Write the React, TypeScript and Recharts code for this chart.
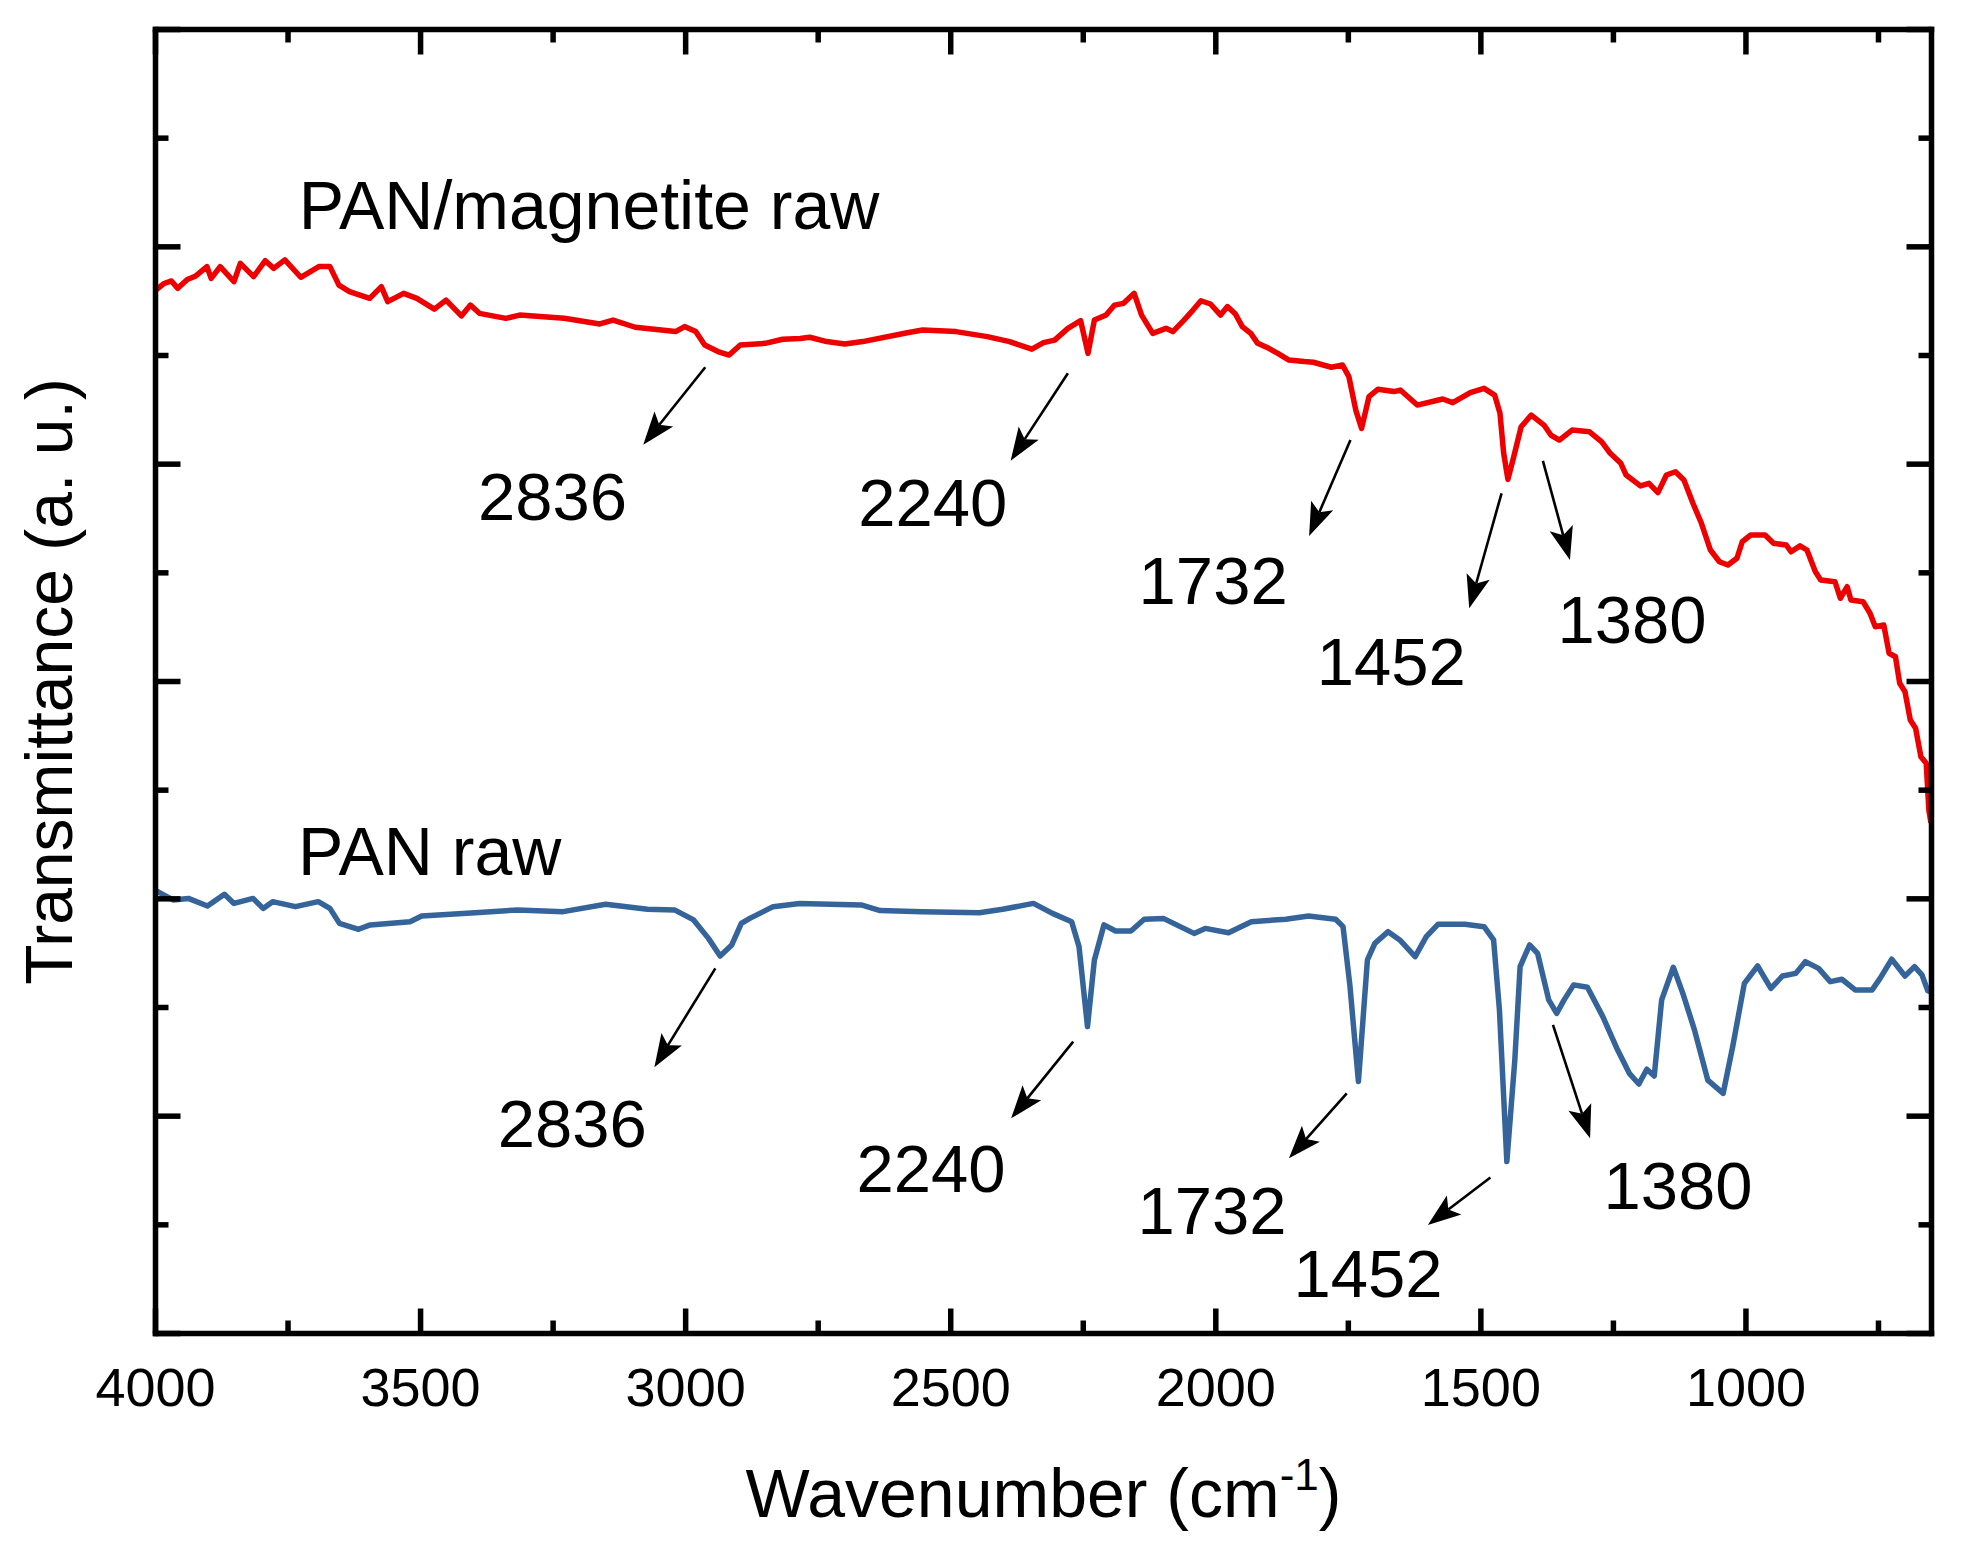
import React from 'react';
import { LineChart, Line, XAxis, YAxis, ReferenceLine, ReferenceDot, Label } from 'recharts';

const FONT = '"Liberation Sans", Arial, Helvetica, sans-serif';

// ---- axis ticks ----
const xTicks = [750, 1000, 1250, 1500, 1750, 2000, 2250, 2500, 2750, 3000, 3250, 3500, 3750, 4000];
const xMajorStep = 500;
const yTicks = [0, 0.5, 1, 1.5, 2, 2.5, 3, 3.5, 4, 4.5, 5, 5.5, 6];

// ---- spectra: [wavenumber, transmittance (a.u.)] ----
const redSpectrum: [number, number][] = [
  [4000, 4.80], [3985, 4.83], [3970, 4.843], [3958, 4.809], [3940, 4.85], [3924, 4.866], [3903, 4.909],
  [3895, 4.855], [3878, 4.909], [3852, 4.84], [3840, 4.924], [3815, 4.863], [3793, 4.936], [3777, 4.901],
  [3756, 4.94], [3726, 4.86], [3692, 4.909], [3671, 4.909], [3654, 4.824], [3634, 4.794], [3596, 4.763],
  [3574, 4.817], [3562, 4.748], [3532, 4.786], [3507, 4.763], [3474, 4.713], [3452, 4.755], [3423, 4.682],
  [3406, 4.732], [3389, 4.694], [3339, 4.671], [3313, 4.686], [3229, 4.671], [3162, 4.645], [3137, 4.663],
  [3095, 4.63], [3019, 4.61], [3002, 4.633], [2981, 4.61], [2964, 4.548], [2939, 4.518], [2918, 4.502],
  [2897, 4.548], [2850, 4.556], [2817, 4.575], [2784, 4.578], [2766, 4.584], [2734, 4.564], [2700, 4.553],
  [2666, 4.564], [2582, 4.605], [2553, 4.617], [2490, 4.61], [2431, 4.587], [2389, 4.564], [2347, 4.529],
  [2325, 4.559], [2304, 4.571], [2279, 4.625], [2255, 4.66], [2241, 4.51], [2229, 4.663], [2207, 4.686],
  [2191, 4.732], [2174, 4.74], [2154, 4.786], [2140, 4.686], [2119, 4.602], [2094, 4.625], [2081, 4.61],
  [2060, 4.663], [2043, 4.709], [2028, 4.752], [2010, 4.737], [1991, 4.686], [1978, 4.725], [1963, 4.691],
  [1950, 4.633], [1934, 4.602], [1921, 4.556], [1900, 4.533], [1883, 4.51], [1862, 4.479], [1833, 4.472],
  [1816, 4.469], [1782, 4.446], [1761, 4.456], [1749, 4.403], [1736, 4.249], [1725, 4.165], [1711, 4.311],
  [1694, 4.345], [1664, 4.334], [1652, 4.341], [1620, 4.272], [1572, 4.3], [1553, 4.283], [1520, 4.329],
  [1494, 4.349], [1474, 4.318], [1464, 4.234], [1457, 4.05], [1449, 3.93], [1438, 4.034], [1424, 4.172],
  [1405, 4.226], [1381, 4.18], [1368, 4.134], [1352, 4.111], [1328, 4.157], [1295, 4.149], [1272, 4.103],
  [1256, 4.05], [1236, 4.004], [1226, 3.95], [1199, 3.9], [1183, 3.912], [1166, 3.869], [1150, 3.95],
  [1133, 3.965], [1117, 3.927], [1100, 3.82], [1084, 3.728], [1067, 3.605], [1050, 3.551], [1034, 3.536],
  [1017, 3.567], [1007, 3.643], [991, 3.674], [964, 3.674], [948, 3.636], [924, 3.628], [915, 3.597],
  [898, 3.624], [885, 3.605], [869, 3.505], [859, 3.467], [832, 3.459], [822, 3.383], [809, 3.436],
  [802, 3.375], [779, 3.367], [766, 3.314], [756, 3.252], [740, 3.26], [730, 3.13], [718, 3.114],
  [710, 2.992], [700, 2.953], [690, 2.823], [680, 2.785], [670, 2.654], [660, 2.624], [655, 2.409], [651, 2.35],
];

const blueSpectrum: [number, number][] = [
  [4000, 2.04], [3996, 2.033], [3967, 1.995], [3938, 2.002], [3902, 1.967], [3870, 2.021], [3852, 1.979],
  [3816, 2.002], [3797, 1.956], [3779, 1.987], [3736, 1.964], [3693, 1.987], [3671, 1.956], [3653, 1.887],
  [3617, 1.86], [3595, 1.88], [3520, 1.895], [3498, 1.921], [3397, 1.936], [3317, 1.949], [3231, 1.941],
  [3151, 1.975], [3072, 1.952], [3021, 1.949], [2985, 1.903], [2957, 1.818], [2935, 1.737], [2913, 1.788],
  [2895, 1.887], [2879, 1.91], [2835, 1.964], [2785, 1.979], [2669, 1.972], [2633, 1.946], [2554, 1.941],
  [2446, 1.936], [2402, 1.952], [2344, 1.979], [2308, 1.933], [2272, 1.895], [2258, 1.78], [2242, 1.412],
  [2229, 1.719], [2211, 1.88], [2189, 1.852], [2160, 1.852], [2135, 1.906], [2099, 1.91], [2041, 1.841],
  [2020, 1.864], [1976, 1.844], [1933, 1.895], [1868, 1.906], [1825, 1.921], [1774, 1.906], [1760, 1.872],
  [1747, 1.6], [1731, 1.159], [1714, 1.719], [1700, 1.795], [1675, 1.849], [1653, 1.811], [1624, 1.734],
  [1603, 1.826], [1581, 1.883], [1530, 1.883], [1494, 1.872], [1476, 1.811], [1465, 1.489], [1451, 0.791],
  [1436, 1.258], [1426, 1.688], [1408, 1.788], [1393, 1.749], [1372, 1.535], [1357, 1.473], [1343, 1.535],
  [1325, 1.604], [1299, 1.593], [1270, 1.458], [1242, 1.304], [1220, 1.197], [1202, 1.148], [1187, 1.216],
  [1173, 1.185], [1159, 1.535], [1137, 1.685], [1119, 1.565], [1097, 1.396], [1072, 1.166], [1043, 1.105],
  [1025, 1.32], [1003, 1.611], [978, 1.691], [953, 1.588], [931, 1.645], [906, 1.657], [888, 1.711],
  [863, 1.68], [841, 1.619], [819, 1.63], [794, 1.581], [762, 1.581], [747, 1.634], [725, 1.722],
  [700, 1.645], [682, 1.688], [668, 1.65], [657, 1.577], [650, 1.57],
];

// ---- annotations (data coordinates) ----
const seriesLabels = [
  { text: 'PAN/magnetite raw', wn: 3730, v: 5.081 },
  { text: 'PAN raw', wn: 3731, v: 2.11 },
];
const peakLabels = [
  { text: '2836', wn: 3251, v: 3.743 },
  { text: '2240', wn: 2534, v: 3.715 },
  { text: '1732', wn: 2005, v: 3.358 },
  { text: '1452', wn: 1669, v: 2.984 },
  { text: '1380', wn: 1215, v: 3.176 },
  { text: '2836', wn: 3214, v: 0.86 },
  { text: '2240', wn: 2537, v: 0.653 },
  { text: '1732', wn: 2007, v: 0.459 },
  { text: '1452', wn: 1713, v: 0.169 },
  { text: '1380', wn: 1128, v: 0.573 },
];
const arrows = [
  { from: [2963, 4.446], to: [3080, 4.089] },
  { from: [2279, 4.418], to: [2387, 4.016] },
  { from: [1746, 4.111], to: [1824, 3.67] },
  { from: [1461, 3.866], to: [1522, 3.337] },
  { from: [1383, 4.015], to: [1332, 3.559] },
  { from: [2944, 1.68], to: [3059, 1.225] },
  { from: [2269, 1.343], to: [2386, 0.99] },
  { from: [1753, 1.105], to: [1862, 0.806] },
  { from: [1482, 0.718], to: [1600, 0.499] },
  { from: [1364, 1.42], to: [1294, 0.898] },
];

const redData = redSpectrum.map(([wn, v]) => ({ wn, v }));
const blueData = blueSpectrum.map(([wn, v]) => ({ wn, v }));

const AX = '#000';
const AXW = 5.5;
const MAJ = 25;
const MIN = 13;

const isMajorX = (v: number) => v % xMajorStep === 0;
const isMajorY = (v: number) => Math.abs(v - Math.round(v)) < 1e-9;

const BottomTick = (p: any) => {
  const { x, y, payload } = p;
  const major = isMajorX(payload.value);
  return (
    <g>
      <line x1={x} y1={y} x2={x} y2={y - (major ? MAJ : MIN)} stroke={AX} strokeWidth={AXW} />
      {major && (
        <text x={x} y={y + 72.5} textAnchor="middle" fontSize={54} fontFamily={FONT} fill="#000">
          {payload.value}
        </text>
      )}
    </g>
  );
};
const TopTick = (p: any) => {
  const { x, y, payload } = p;
  const major = isMajorX(payload.value);
  return <line x1={x} y1={y} x2={x} y2={y + (major ? MAJ : MIN)} stroke={AX} strokeWidth={AXW} />;
};
const LeftTick = (p: any) => {
  const { x, y, payload } = p;
  const major = isMajorY(payload.value);
  return <line x1={x} y1={y} x2={x + (major ? MAJ : MIN)} y2={y} stroke={AX} strokeWidth={AXW} />;
};
const RightTick = (p: any) => {
  const { x, y, payload } = p;
  const major = isMajorY(payload.value);
  return <line x1={x} y1={y} x2={x - (major ? MAJ : MIN)} y2={y} stroke={AX} strokeWidth={AXW} />;
};

const ArrowShape = (p: any) => {
  const { x1, y1, x2, y2 } = p;
  const dx = x2 - x1;
  const dy = y2 - y1;
  const len = Math.hypot(dx, dy) || 1;
  const ux = dx / len;
  const uy = dy / len;
  const hl = 33;
  const hw = 12;
  const bx = x2 - ux * hl;
  const by = y2 - uy * hl;
  const nx = x2 - ux * (hl * 0.78);
  const ny = y2 - uy * (hl * 0.78);
  const px = -uy;
  const py = ux;
  return (
    <g>
      <line x1={x1} y1={y1} x2={nx} y2={ny} stroke="#000" strokeWidth={2.6} />
      <polygon
        points={`${x2},${y2} ${bx + px * hw},${by + py * hw} ${nx},${ny} ${bx - px * hw},${by - py * hw}`}
        fill="#000"
      />
    </g>
  );
};

const makeText = (text: string, size: number, anchor: string) => (p: any) => (
  <text x={p.cx} y={p.cy} textAnchor={anchor} fontSize={size} fontFamily={FONT} fill="#000">
    {text}
  </text>
);

const axisLine = { stroke: AX, strokeWidth: AXW, strokeLinecap: 'square' as const };

export default function App() {
  return (
    <div style={{ position: 'absolute', left: 0, top: 0, width: 1964, height: 1566, background: '#fff' }}>
      <LineChart width={1964} height={1566} margin={{ top: 19.5, right: 22.5, bottom: 132.5, left: 145.5 }}>
        <XAxis
          xAxisId="b"
          type="number"
          dataKey="wn"
          domain={[650, 4000]}
          reversed
          ticks={xTicks}
          interval={0}
          tickSize={0}
          tickMargin={0}
          tickLine={false}
          tick={BottomTick}
          axisLine={axisLine}
          height={100}
          allowDataOverflow
          label={
            <Label
              content={(props: any) => {
                const vb = props.viewBox || {};
                const cx = vb.x + vb.width / 2;
                const by = vb.y + 183.5;
                return (
                  <text x={cx} y={by} textAnchor="middle" fontSize={68} fontFamily={FONT} fill="#000">
                    Wavenumber (cm
                    <tspan dy={-27} fontSize={44}>-1</tspan>
                    <tspan dy={27}>)</tspan>
                  </text>
                );
              }}
            />
          }
        />
        <XAxis
          xAxisId="t"
          orientation="top"
          type="number"
          dataKey="wn"
          domain={[650, 4000]}
          reversed
          ticks={xTicks}
          interval={0}
          tickSize={0}
          tickMargin={0}
          tickLine={false}
          tick={TopTick}
          axisLine={axisLine}
          height={10}
          allowDataOverflow
        />
        <YAxis
          yAxisId="l"
          type="number"
          domain={[0, 6]}
          ticks={yTicks}
          interval={0}
          tickSize={0}
          tickMargin={0}
          tickLine={false}
          tick={LeftTick}
          axisLine={axisLine}
          width={10}
          allowDataOverflow
          label={
            <Label
              content={(props: any) => {
                const vb = props.viewBox || {};
                const cy = vb.y + vb.height / 2;
                const bx = 72;
                return (
                  <text
                    x={bx}
                    y={cy}
                    transform={`rotate(-90, ${bx}, ${cy})`}
                    textAnchor="middle"
                    fontSize={66}
                    fontFamily={FONT}
                    fill="#000"
                  >
                    Transmittance (a. u.)
                  </text>
                );
              }}
            />
          }
        />
        <YAxis
          yAxisId="r"
          orientation="right"
          type="number"
          domain={[0, 6]}
          ticks={yTicks}
          interval={0}
          tickSize={0}
          tickMargin={0}
          tickLine={false}
          tick={RightTick}
          axisLine={axisLine}
          width={10}
          allowDataOverflow
        />
        <Line
          xAxisId="b"
          yAxisId="l"
          data={redData}
          dataKey="v"
          type="linear"
          stroke="#ee0000"
          strokeWidth={5.5}
          strokeLinejoin="round"
          dot={false}
          activeDot={false}
          isAnimationActive={false}
        />
        <Line
          xAxisId="b"
          yAxisId="l"
          data={blueData}
          dataKey="v"
          type="linear"
          stroke="#35649b"
          strokeWidth={5.5}
          strokeLinejoin="round"
          dot={false}
          activeDot={false}
          isAnimationActive={false}
        />
        {arrows.map((a, i) => (
          <ReferenceLine
            key={'ar' + i}
            xAxisId="b"
            yAxisId="l"
            segment={[
              { x: a.from[0], y: a.from[1] },
              { x: a.to[0], y: a.to[1] },
            ]}
            shape={ArrowShape}
            ifOverflow="visible"
          />
        ))}
        {peakLabels.map((l, i) => (
          <ReferenceDot
            key={'pl' + i}
            xAxisId="b"
            yAxisId="l"
            x={l.wn}
            y={l.v}
            r={0}
            ifOverflow="visible"
            shape={makeText(l.text, 67, 'middle')}
          />
        ))}
        {seriesLabels.map((l, i) => (
          <ReferenceDot
            key={'sl' + i}
            xAxisId="b"
            yAxisId="l"
            x={l.wn}
            y={l.v}
            r={0}
            ifOverflow="visible"
            shape={makeText(l.text, 68, 'start')}
          />
        ))}
      </LineChart>
    </div>
  );
}
